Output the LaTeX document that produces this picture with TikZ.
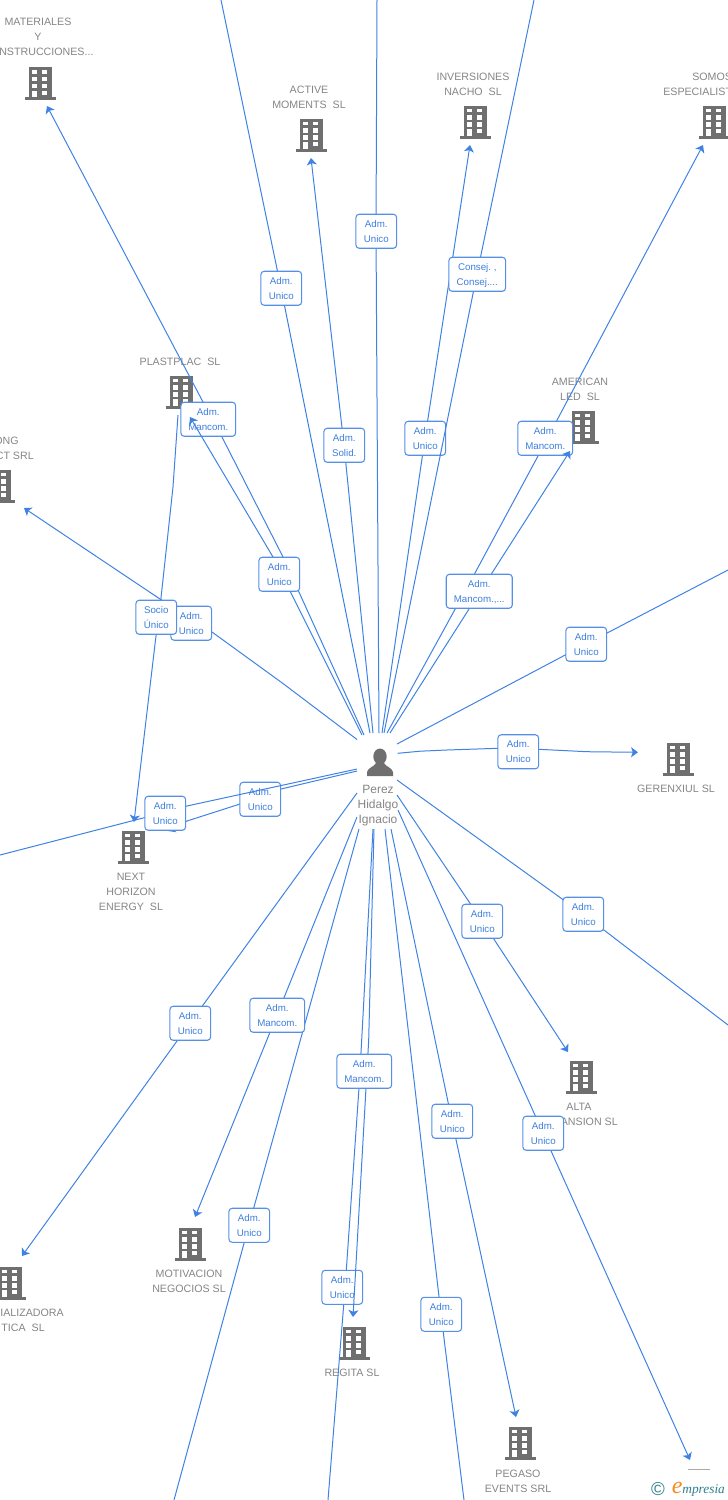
\documentclass[tikz,border=0pt]{standalone}
\usepackage{fontspec}
\setmainfont{Liberation Sans}
\newfontfamily\logofont{Liberation Serif}
\usetikzlibrary{arrows.meta}
\definecolor{edgeblue}{HTML}{3F82E3}
\definecolor{lblblue}{HTML}{3D7FDD}
\definecolor{boxblue}{HTML}{5590E6}
\definecolor{txtgray}{HTML}{858585}
\definecolor{icongray}{HTML}{6F6F6F}
\definecolor{logoteal}{HTML}{2F7F8F}
\definecolor{logoorange}{HTML}{F58A1F}
\tikzset{
  x=0.75pt,y=-0.75pt,
  rel/.style={draw=edgeblue,line width=0.75pt,line join=round},
  reltip/.style={rel,-{Stealth[length=5.2pt,width=7.5pt,inset=1.3pt]}},
  lbl/.style={draw=boxblue,line width=0.8pt,fill=white,rounded corners=2.4pt,text=lblblue,
    font=\fontsize{7.3}{11.25}\selectfont,align=center,inner sep=0pt,minimum height=25.5pt,minimum width=30.5pt,
    xshift=0.2pt,yshift=-0.2pt},
  wide/.style={minimum width=41pt},
  wider/.style={minimum width=49.5pt},
  widest/.style={minimum width=42.5pt},
  name text/.style={text=txtgray,font=\fontsize{8}{11.25}\selectfont,align=center,inner sep=0pt},
  bldg/.pic={
    \fill[icongray] (-11.5,-16.5) rectangle (11.5,13.5);
    \fill[icongray] (-15.5,13.5) rectangle (15.5,16.5);
    \fill[white] (-8.2,-13.5) rectangle (-2.6,-9.6);
    \fill[white] (2.2,-13.5) rectangle (7.4,-9.6);
    \fill[white] (-8.2,-6.6) rectangle (-2.6,-2.2);
    \fill[white] (2.2,-6.6) rectangle (7.4,-2.2);
    \fill[white] (-8.2,0.4) rectangle (-2.6,4.6);
    \fill[white] (2.2,0.4) rectangle (7.4,4.6);
    \fill[white] (-8.2,7) rectangle (-2.6,13.5);
    \fill[white] (2.2,7) rectangle (7.4,11.4);
    \node[inner sep=0pt,minimum width=23pt,minimum height=24pt] (-box) at (0,0) {};
  }
}
% id, tip style, start, bends, end, label position, label options, label text
\newcommand\rel[8]{%
  \coordinate (s#1) at (#3);
  \coordinate (e#1) at (#5);
  \draw[#2] (s#1) -- #4 (e#1);
  \node[lbl,#7] (l#1) at (#6) {\rule{0pt}{6.5pt}#8\rule[-1.2pt]{0pt}{1.2pt}};
}
\begin{document}
\begin{tikzpicture}
\useasboundingbox (0,0) rectangle (728,1500);
\clip (0,0) rectangle (728,1500);
% companies
\pic (bMat) at (40,83.5) {bldg};
\node[name text] (nMat) at (38,29.5) {MATERIALES\\Y};
\node[name text,anchor=west] (nMau) at (-1,52) {NSTRUCCIONES...};
\pic (bAct) at (311,135) {bldg};
\node[name text] (nAct) at (309,97) {ACTIVE\\MOMENTS~~SL};
\pic (bInv) at (475,122) {bldg};
\node[name text] (nInv) at (473,84) {INVERSIONES\\NACHO~~SL};
\pic (bSom) at (714,122) {bldg};
\node[name text,anchor=west] (nSom) at (692,77) {SOMOS};
\node[name text,anchor=west] (nEsp) at (663,92) {ESPECIALIST};
\pic (bPla) at (181,392) {bldg};
\node[name text] (nPla) at (180,361.5) {PLASTPLAC~~SL};
\pic (bOng) at (-1,486) {bldg};
\node[name text,anchor=east] (nOng) at (19,440.5) {ONG};
\node[name text,anchor=east] (nOct) at (34,455.5) {CT SRL};
\pic (bAme) at (583,427) {bldg};
\node[name text] (nAme) at (580,389) {AMERICAN\\LED~~SL};
\pic (bGer) at (678,759) {bldg};
\node[name text] (nGer) at (676,788.5) {GERENXIUL SL};
\pic (bNex) at (133,847) {bldg};
\node[name text] (nNex) at (131,891.5) {NEXT\\HORIZON\\ENERGY~~SL};
\pic (bAlt) at (581,1077) {bldg};
\node[name text] (nAlt) at (579,1106.5) {ALTA};
\node[name text,anchor=east] (nAls) at (618,1121.5) {ANSION SL};
\pic (bCom) at (10,1283) {bldg};
\node[name text,anchor=east] (nCom) at (64,1312.5) {IALIZADORA};
\node[name text,anchor=east] (nCot) at (45,1327.5) {TICA~~SL};
\pic (bMot) at (190,1244) {bldg};
\node[name text] (nMot) at (189,1281) {MOTIVACION\\NEGOCIOS SL};
\pic (bReg) at (354,1343) {bldg};
\node[name text] (nReg) at (352,1372.5) {REGITA SL};
\pic (bPeg) at (520,1443) {bldg};
\node[name text] (nPeg) at (518,1481) {PEGASO\\EVENTS SRL};
% person
\node[inner sep=0pt,minimum width=20pt,minimum height=21pt] (hub) at (380,762.5) {};
\fill[icongray] (380,756.5) circle[x radius=6.7,y radius=8];
\fill[icongray] (367,776) -- (367,772) .. controls (368,767.5) and (374,767) .. (376,763) -- (384,763) .. controls (386,767) and (392,767.5) .. (393,772) -- (393,776) -- cycle;
\node[name text,font=\fontsize{9}{11.25}\selectfont] (nHub) at (378,806) {Perez\\Hidalgo\\Ignacio};
% relations
\rel{a}{reltip}{364,735}{(283,557) -- (222,437) -- (203,402) --}{47,106}{208,419}{wide}{Adm.\\Mancom.}
\rel{b}{reltip}{362,735}{(273,557) --}{190,417}{279,574}{}{Adm.\\Unico}
\rel{c}{reltip}{373,733}{(344,445) --}{311,158}{344,445}{}{Adm.\\Solid.}
\rel{d}{rel}{370,733}{(281,288) --}{221,0}{281,288}{}{Adm.\\Unico}
\rel{e}{rel}{379,733}{(376,231) --}{377,0}{376,231}{}{Adm.\\Unico}
\rel{f}{reltip}{382,733}{(425,438) --}{470,145}{425,438}{}{Adm.\\Unico}
\rel{g}{rel}{384,733}{(477,274) --}{534,0}{477,274}{widest}{Consej.~,\\Consej....}
\rel{h}{reltip}{387,733}{(475,573) -- (538,456) --}{703,145}{545,438}{wide}{Adm.\\Mancom.}
\rel{i}{reltip}{390,733}{(492,573) --}{570,451}{479,591}{wider}{Adm.\\Mancom.,...}
\rel{j}{rel}{397,744}{(586,644) --}{728,570}{586,644}{}{Adm.\\Unico}
\rel{k}{reltip}{397.7,753.3}{(420,751.2) -- (446.7,750) -- (497.7,748.3) -- (539,749.3) -- (586.7,751.7) --}{638,752.3}{518,751.5}{}{Adm.\\Unico}
\rel{l}{rel}{397,780}{(583,914) --}{728,1025}{583,914}{}{Adm.\\Unico}
\rel{m}{reltip}{397,795}{(482,921) --}{568,1052}{482,921}{}{Adm.\\Unico}
\rel{n}{reltip}{398,810}{(543,1133) --}{690,1460}{543,1133}{}{Adm.\\Unico}
\rel{o}{reltip}{391,829}{(452,1121) --}{516,1417}{452,1121}{}{Adm.\\Unico}
\rel{p}{rel}{385,829}{(441,1314) --}{464,1500}{441,1314}{}{Adm.\\Unico}
\rel{r}{rel}{373,829}{(361.7,1040) -- (359,1088) -- (346.3,1270) -- (343.7,1305) --}{328,1500}{342,1287}{}{Adm.\\Unico}
\rel{q}{reltip}{374,829}{(368.7,1040) -- (366,1088) --}{353,1317}{364,1071}{wide}{Adm.\\Mancom.}
\rel{s}{rel}{359,829}{(249,1225) --}{174,1500}{249,1225}{}{Adm.\\Unico}
\rel{t}{reltip}{357,817}{(277,1015) --}{195,1217}{277,1015}{wide}{Adm.\\Mancom.}
\rel{u}{reltip}{357,793}{(190,1023) --}{22,1256}{190,1023}{}{Adm.\\Unico}
\rel{v}{reltip}{357,739.5}{(283,683.5) -- (212,632) -- (160,599) --}{24,508}{191,623}{}{Adm.\\Unico}
\rel{w}{reltip}{178,415}{(173,487) -- (161,598) -- (155.5,640) --}{134,822}{156,617}{}{Socio\\Único}
\rel{x}{reltip}{357,771}{(281,789) -- (240,804) -- (187,821) --}{168,831}{260,799}{}{Adm.\\Unico}
\rel{y}{rel}{357,769}{(187,806) -- (147,817) --}{0,855}{165,813}{}{Adm.\\Unico}
% short rule left of the copyright plate
\coordinate (ca) at (688,1469);
\coordinate (cb) at (710,1469);
\draw[txtgray!70,line width=0.75pt] (ca) -- (cb);
% copyright mark
\node[inner sep=0pt,text=logoteal,font=\fontsize{14}{14}\selectfont] (copy) at (658,1489) {©};
\node[inner sep=0pt,anchor=base west,text=logoteal,font=\logofont\itshape\fontsize{10}{12}\selectfont] (logo) at (671.5,1493) {{\color{logoorange}\fontsize{18}{12}\selectfont e}mpresia};
\end{tikzpicture}
\end{document}
